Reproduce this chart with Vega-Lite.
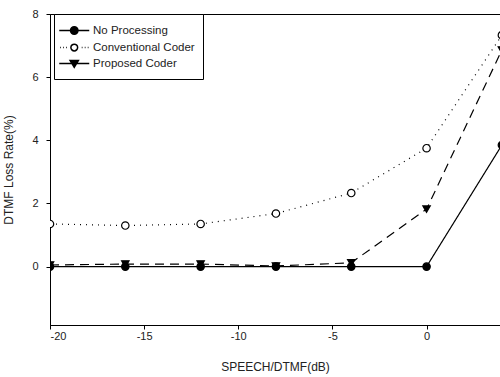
{
  "$schema": "https://vega.github.io/schema/vega-lite/v6.json",
  "width": 450,
  "height": 311,
  "autosize": {"type": "none"},
  "padding": {"left": 50, "top": 14, "right": 0, "bottom": 52},
  "background": "white",
  "config": {
    "font": "Liberation Sans",
    "view": {"stroke": "black", "strokeWidth": 1},
    "axis": {"grid": false, "domainColor": "black", "tickColor": "black", "labelColor": "#222", "titleColor": "#222", "labelFontSize": 11, "titleFontSize": 12, "titleFontWeight": "normal", "labelFont": "Liberation Sans", "titleFont": "Liberation Sans"}
  },
  "data": {
    "values": [
      {"x": -20, "y": 0, "series": "No Processing"},
      {"x": -16, "y": 0, "series": "No Processing"},
      {"x": -12, "y": 0, "series": "No Processing"},
      {"x": -8, "y": 0, "series": "No Processing"},
      {"x": -4, "y": 0, "series": "No Processing"},
      {"x": 0, "y": 0, "series": "No Processing"},
      {"x": 4, "y": 3.85, "series": "No Processing"},
      {"x": -20, "y": 1.35, "series": "Conventional Coder"},
      {"x": -16, "y": 1.3, "series": "Conventional Coder"},
      {"x": -12, "y": 1.35, "series": "Conventional Coder"},
      {"x": -8, "y": 1.68, "series": "Conventional Coder"},
      {"x": -4, "y": 2.33, "series": "Conventional Coder"},
      {"x": 0, "y": 3.75, "series": "Conventional Coder"},
      {"x": 4, "y": 7.33, "series": "Conventional Coder"},
      {"x": -20, "y": 0.05, "series": "Proposed Coder"},
      {"x": -16, "y": 0.08, "series": "Proposed Coder"},
      {"x": -12, "y": 0.08, "series": "Proposed Coder"},
      {"x": -8, "y": 0.02, "series": "Proposed Coder"},
      {"x": -4, "y": 0.12, "series": "Proposed Coder"},
      {"x": 0, "y": 1.82, "series": "Proposed Coder"},
      {"x": 4, "y": 6.86, "series": "Proposed Coder"}
    ]
  },
  "encoding": {
    "x": {"field": "x", "type": "quantitative", "scale": {"domain": [-20, 3.9], "nice": false, "zero": false},
      "axis": {"values": [-20, -15, -10, -5, 0], "labelExpr": "replace(datum.label, '\u2212', '-')", "title": "SPEECH/DTMF(dB)", "tickSize": 4, "labelPadding": 1, "titlePadding": 20}},
    "y": {"field": "y", "type": "quantitative", "scale": {"domain": [-1.85, 8], "nice": false, "zero": false},
      "axis": {"values": [0, 2, 4, 6, 8], "title": "DTMF Loss Rate(%)", "tickSize": 4, "labelPadding": 8, "titlePadding": 16}}
  },
  "layer": [
    {
      "mark": {"type": "line", "clip": true, "color": "black", "strokeWidth": 1.2},
      "encoding": {
        "detail": {"field": "series"},
        "strokeDash": {"field": "series", "type": "nominal",
          "scale": {"domain": ["No Processing", "Conventional Coder", "Proposed Coder"], "range": [[1, 0], [1, 5], [9, 6]]},
          "legend": null}
      }
    },
    {
      "mark": {"type": "point", "clip": true, "size": 55, "stroke": "black", "strokeWidth": 1.2, "opacity": 1, "filled": false},
      "encoding": {
        "shape": {"field": "series", "type": "nominal",
          "scale": {"domain": ["No Processing", "Conventional Coder", "Proposed Coder"], "range": ["circle", "circle", "triangle-down"]},
          "legend": null},
        "fill": {"field": "series", "type": "nominal",
          "scale": {"domain": ["No Processing", "Conventional Coder", "Proposed Coder"], "range": ["black", "white", "black"]},
          "legend": null}
      }
    },
    {
      "transform": [{"filter": "datum.x > 100"}],
      "mark": {"type": "point", "clip": true, "filled": true, "opacity": 1, "stroke": "black", "strokeWidth": 1.2},
      "encoding": {
        "shape": {"field": "series", "type": "nominal",
          "scale": {"domain": ["No Processing", "Conventional Coder", "Proposed Coder"],
            "range": [
              "M-1.5,0H2.5M1,0A0.5,0.5,0,1,1,0,0A0.5,0.5,0,1,1,1,0Z",
              "M-1.4,0H-1.3M-1.0,0H-0.9M-0.6,0H-0.5M1.5,0H1.6M1.9,0H2.0M2.3,0H2.4M0.95,0A0.45,0.45,0,1,1,0.05,0A0.45,0.45,0,1,1,0.95,0Z",
              "M-1.5,0H2.5M-0.05,-0.4L1.05,-0.4L0.5,0.5Z"
            ]},
          "legend": {"title": null, "orient": "none", "legendX": 4, "legendY": 0, "symbolSize": 225, "labelFontSize": 11.5, "labelColor": "#222", "labelFont": "Liberation Sans", "strokeColor": "black", "fillColor": "white", "padding": 8, "rowPadding": 1, "labelOffset": 14,
            "encode": {"symbols": {"update": {"stroke": {"value": "black"}, "strokeWidth": {"value": 1.2}, "opacity": {"value": 1}}}}}},
        "fill": {"field": "series", "type": "nominal",
          "scale": {"domain": ["No Processing", "Conventional Coder", "Proposed Coder"], "range": ["black", "white", "black"]},
          "legend": {"title": null, "orient": "none", "legendX": 4, "legendY": 0}}
      }
    }
  ],
  "resolve": {"scale": {"shape": "independent", "fill": "independent"}}
}
